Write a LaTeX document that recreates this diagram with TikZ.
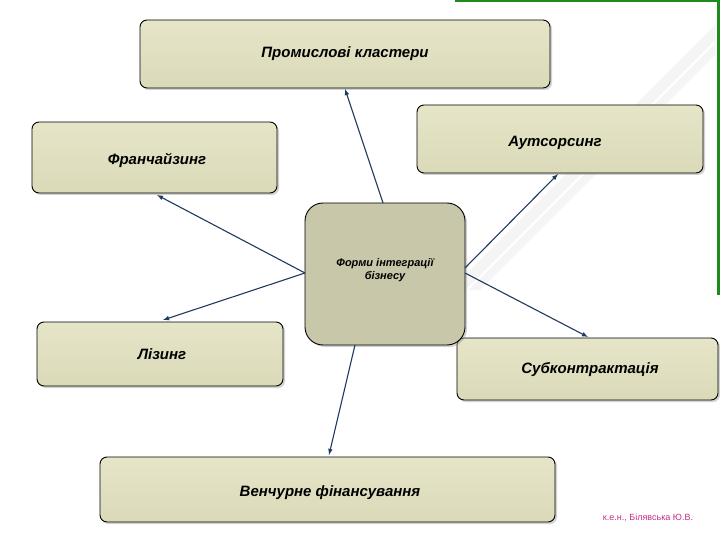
\documentclass[tikz,border=0pt]{standalone}
\usepackage{fontspec}
\setmainfont{Liberation Sans}
\usetikzlibrary{shadows}
\definecolor{boxfill}{HTML}{DAD9B8}
\definecolor{boxfill2}{HTML}{E6E5C8}
\definecolor{cfill}{HTML}{C9C7AA}
\definecolor{arr}{HTML}{1F3A5F}
\definecolor{grn}{HTML}{1E8A1E}
\tikzset{
 box/.style={draw=black,line width=0.9pt,rounded corners=7pt,top color=boxfill2,bottom color=boxfill,drop shadow={shadow xshift=2pt,shadow yshift=-2pt,fill=gray!70}},
 lbl/.style={font=\bfseries\itshape\fontsize{15}{17}\selectfont},
 conn/.style={draw=arr,line width=1.1pt,-latex},
}
\begin{document}
\begin{tikzpicture}[x=1pt,y=-1pt]
\useasboundingbox (0,0) rectangle (720,540);
% decoration
\fill[gray!8] (715,25) -- (715,55) -- (480,290) -- (450,290) -- cycle;
\draw[white,line width=2pt] (715,42) -- (465,292);
\draw[grn,line width=3pt] (455,1) -- (718,1) -- (718,295);
% boxes
\draw[box] (140,20) rectangle (550,88);
\draw[box] (32,122) rectangle (277,193);
\draw[box] (417,105) rectangle (703,173);
\draw[box] (37,322) rectangle (283,386);
\draw[box] (457,338) rectangle (718,400);
\draw[box] (100,457) rectangle (555,522);
\draw[box,rounded corners=18pt,top color=cfill,bottom color=cfill] (305,203) rectangle (465,345);
\node[lbl] (prom) at (345,54) {Промислові кластери};
\node[lbl] (fran) at (157,160) {Франчайзинг};
\node[lbl] (aut) at (555,143) {Аутсорсинг};
\node[lbl] (liz) at (162,354) {Лізинг};
\node[lbl] (sub) at (590,370) {Субконтрактація};
\node[lbl] (ven) at (330,493) {Венчурне фінансування};
\node[font=\bfseries\itshape\fontsize{11}{13}\selectfont,align=center] (cen) at (385,270) {Форми інтеграції\\бізнесу};
% anchor coordinates
\coordinate (c1) at (383,203); \coordinate (t1) at (345,89);
\coordinate (c2) at (465,268); \coordinate (t2) at (558,174);
\coordinate (c3) at (305,273); \coordinate (t3) at (157,195);
\coordinate (t4) at (163,320);
\coordinate (c5) at (465,273); \coordinate (t5) at (588,337);
\coordinate (c6) at (355,345); \coordinate (t6) at (329,455);
\draw[conn] (c1) -- (t1);
\draw[conn] (c2) -- (t2);
\draw[conn] (c3) -- (t3);
\draw[conn] (c3) -- (t4);
\draw[conn] (c5) -- (t5);
\draw[conn] (c6) -- (t6);
\node[text=magenta!80!black,font=\fontsize{9}{10}\selectfont] (auth) at (648,518) {к.е.н., Білявська Ю.В.};
\end{tikzpicture}
\end{document}
